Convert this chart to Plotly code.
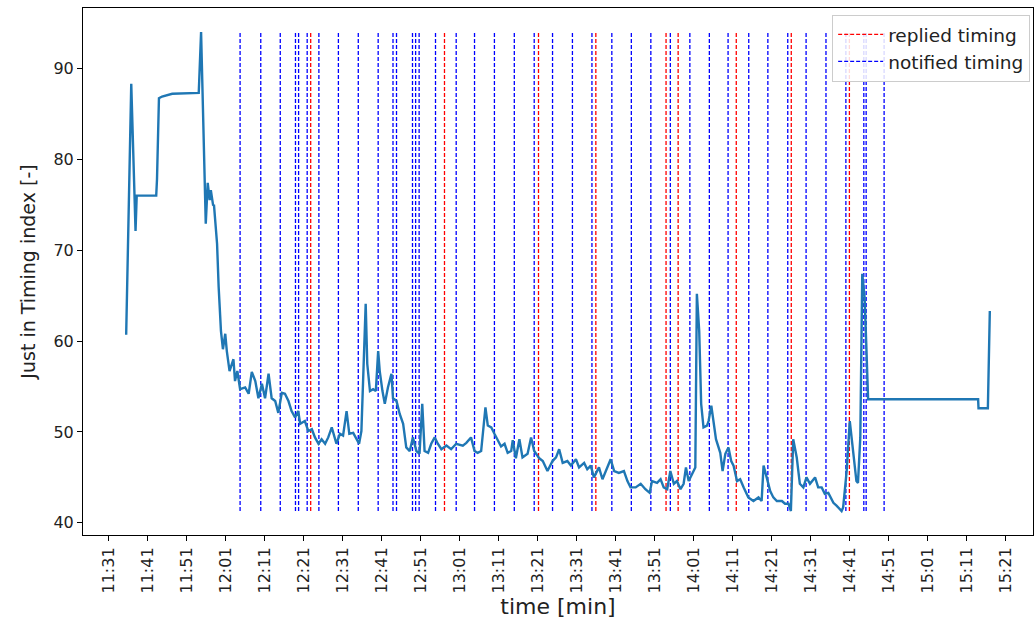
import pandas as pd
import plotly.graph_objects as go

# Just-in-Timing index samples: minutes after 11:00 and index value
jit_minutes = [
    35.5, 36.8, 37.9, 38.2, 43.2, 43.4, 43.9, 44.7, 47.3, 54.1,
    54.7, 55.4, 55.9, 56.4, 56.9, 57.2, 57.8, 58.0, 58.8, 59.2,
    59.8, 60.3, 60.9, 61.3, 62.0, 63.0, 63.4, 64.0, 64.7, 66.0,
    66.9, 67.7, 68.6, 69.4, 70.3, 71.1, 72.0, 72.8, 73.7, 74.5,
    75.4, 76.2, 77.1, 77.9, 78.8, 79.6, 80.1, 81.3, 82.2, 83.1,
    83.9, 84.8, 85.6, 86.5, 87.3, 88.2, 89.4, 90.3, 91.1, 92.0,
    92.7, 93.7, 94.6, 95.2, 95.8, 96.3, 96.9, 97.3, 98.0, 98.8,
    99.5, 100.1, 100.5, 101.2, 101.8, 102.6, 103.5, 103.9, 104.8, 105.6,
    106.5, 107.3, 108.2, 109.0, 109.9, 110.7, 111.4, 112.0, 112.9, 113.7,
    114.6, 115.4, 116.3, 117.6, 118.8, 120.1, 121.8, 122.7, 123.9, 124.8,
    125.6, 126.5, 127.6, 128.2, 129.1, 129.9, 130.8, 131.6, 132.5, 133.3,
    134.2, 134.6, 135.4, 136.3, 137.1, 138.4, 139.3, 140.1, 141.4, 142.3,
    143.5, 144.8, 145.7, 146.5, 147.4, 148.6, 149.5, 150.8, 151.6, 152.9,
    153.7, 154.6, 155.4, 156.7, 157.6, 158.9, 159.7, 160.6, 161.8, 163.1,
    164.0, 164.8, 166.1, 167.4, 168.6, 169.7, 170.3, 171.6, 172.5, 173.3,
    174.2, 175.0, 175.9, 176.7, 177.6, 178.4, 179.0, 179.7, 180.6, 181.4,
    181.8, 182.4, 182.9, 183.5, 184.4, 184.8, 185.5, 186.1, 186.7, 187.8,
    188.4, 189.1, 189.9, 190.6, 191.2, 192.1, 192.9, 193.8, 195.0, 196.3,
    197.6, 198.4, 198.9, 199.7, 200.6, 201.4, 202.3, 203.6, 204.4, 205.3,
    205.9, 206.5, 207.4, 208.2, 209.1, 209.9, 210.8, 212.1, 212.9, 213.8,
    214.6, 215.5, 216.8, 217.6, 218.9, 219.3, 220.2, 221.0, 221.6, 222.7,
    223.1, 223.7, 224.2, 224.8, 225.2, 225.5, 225.7, 253.9, 254.0, 256.4,
    256.9,
]
jit_index = [
    60.7, 88.3, 72.1, 76.0, 76.0, 77.8, 86.7, 86.9, 87.2, 87.3,
    94.0, 81.7, 72.9, 77.4, 75.5, 76.6, 74.9, 75.0, 70.7, 66.0,
    61.1, 59.1, 60.8, 58.9, 56.7, 58.0, 55.6, 56.7, 54.7, 54.9,
    54.2, 56.6, 55.6, 53.7, 55.3, 53.7, 56.4, 53.7, 53.4, 52.1,
    54.3, 54.2, 53.4, 52.3, 51.6, 52.3, 50.9, 51.2, 50.1, 50.3,
    49.4, 48.7, 49.2, 48.7, 49.4, 50.5, 48.7, 49.8, 49.6, 52.3,
    49.8, 49.9, 49.2, 48.7, 50.1, 56.7, 64.1, 57.5, 54.5, 54.7,
    54.5, 58.9, 56.7, 54.5, 53.1, 54.9, 56.4, 53.7, 53.4, 52.0,
    50.9, 48.3, 47.9, 49.4, 47.9, 47.6, 53.1, 47.9, 47.7, 48.7,
    49.4, 48.7, 48.1, 48.5, 48.1, 48.7, 48.5, 48.8, 49.4, 47.9,
    47.7, 47.9, 52.7, 50.7, 50.5, 49.8, 49.1, 48.4, 48.7, 47.7,
    47.9, 49.1, 47.1, 49.2, 47.2, 47.6, 49.4, 47.9, 47.1, 46.8,
    45.7, 46.8, 47.2, 48.1, 46.6, 46.8, 46.3, 47.0, 46.1, 46.6,
    45.9, 46.3, 45.0, 46.1, 44.8, 46.1, 47.0, 45.7, 45.5, 45.7,
    44.6, 43.9, 43.9, 44.3, 43.7, 43.3, 44.6, 44.4, 44.8, 43.9,
    43.7, 45.7, 44.3, 44.6, 43.7, 44.3, 46.1, 44.6, 45.5, 46.1,
    65.2, 61.1, 53.1, 50.5, 50.7, 51.2, 52.9, 51.2, 49.2, 47.7,
    45.7, 47.6, 48.3, 46.8, 46.3, 44.6, 44.8, 43.9, 42.8, 42.4,
    42.8, 42.4, 46.3, 45.0, 43.5, 42.8, 42.4, 42.4, 42.1, 42.1,
    41.3, 49.2, 47.2, 44.3, 43.9, 45.0, 44.3, 45.0, 43.9, 43.9,
    43.2, 43.3, 42.2, 41.9, 41.3, 41.7, 45.7, 51.2, 48.7, 44.6,
    44.4, 49.4, 67.4, 64.8, 60.0, 54.5, 53.6, 53.6, 52.6, 52.6,
    63.3,
]

# Event timings (minutes after 11:00)
replied_minutes = [82.8, 117.1, 141.2, 155.9, 173.9, 177.0, 191.9, 206.0, 220.9]
notified_minutes = [
    64.7, 70.0, 75.0, 78.9, 79.7, 81.9, 84.9, 89.9, 95.0, 100.1,
    103.9, 104.8, 108.9, 109.7, 110.6, 114.8, 120.1, 124.8, 129.9, 135.0,
    140.1, 144.8, 149.9, 154.9, 160.0, 165.0, 170.0, 175.0, 180.0, 185.0,
    189.8, 195.1, 200.0, 205.1, 209.8, 214.9, 220.0, 224.6, 225.2, 229.8,
]

BASE = pd.Timestamp("2021-01-01 11:00:00")


def to_time(minutes):
    return [BASE + pd.Timedelta(minutes=m) for m in minutes]


t_jit = to_time(jit_minutes)
y_lo, y_hi = min(jit_index), max(jit_index)


def vline_xy(minutes):
    xs, ys = [], []
    for t in to_time(minutes):
        xs += [t, t, None]
        ys += [y_lo, y_hi, None]
    return xs, ys


fig = go.Figure()

rx, ry = vline_xy(replied_minutes)
fig.add_trace(go.Scatter(
    x=rx, y=ry, mode="lines", name="replied timing",
    line=dict(color="red", width=1.3, dash="4px,2px"),
    hoverinfo="skip",
))
nx, ny = vline_xy(notified_minutes)
fig.add_trace(go.Scatter(
    x=nx, y=ny, mode="lines", name="notified timing",
    line=dict(color="blue", width=1.3, dash="4px,2px"),
    hoverinfo="skip",
))
fig.add_trace(go.Scatter(
    x=t_jit, y=jit_index, mode="lines", showlegend=False,
    line=dict(color="#1f77b4", width=2.4),
))

# matplotlib-style 5% margins around the data
span_min = jit_minutes[-1] - jit_minutes[0]
x_range = to_time([jit_minutes[0] - 0.05 * span_min, jit_minutes[-1] + 0.05 * span_min])
pad = 0.05 * (y_hi - y_lo)

font = "DejaVu Sans"
fig.update_layout(
    width=1035, height=635,
    margin=dict(l=83, r=2, t=8, b=100),
    paper_bgcolor="white", plot_bgcolor="white",
    font=dict(family=font, color="#222222"),
    showlegend=True,
    legend=dict(
        x=0.997, y=0.987, xanchor="right", yanchor="top",
        bgcolor="rgba(255,255,255,0.85)", bordercolor="#cccccc", borderwidth=1,
        font=dict(size=18.5, family=font, color="#222222"),
        itemwidth=45,
    ),
    xaxis=dict(
        type="date", range=x_range,
        tick0=BASE + pd.Timedelta(minutes=31), dtick=600000,
        tickformat="%H:%M", tickangle=-90,
        ticks="outside", ticklen=5, tickcolor="black",
        tickfont=dict(size=16, family=font, color="#222222"),
        showgrid=False, zeroline=False,
        showline=True, linecolor="black", linewidth=1, mirror=True,
        title=dict(text="time [min]", font=dict(size=22, family=font, color="#222222"), standoff=6),
    ),
    yaxis=dict(
        range=[y_lo - pad, y_hi + pad],
        tick0=0, dtick=10,
        ticks="outside", ticklen=5, tickcolor="black",
        tickfont=dict(size=16, family=font, color="#222222"),
        showgrid=False, zeroline=False,
        showline=True, linecolor="black", linewidth=1, mirror=True,
        title=dict(text="Just in Timing index [-]", font=dict(size=19, family=font, color="#222222"), standoff=12),
    ),
)

fig.write_html("out.html")
